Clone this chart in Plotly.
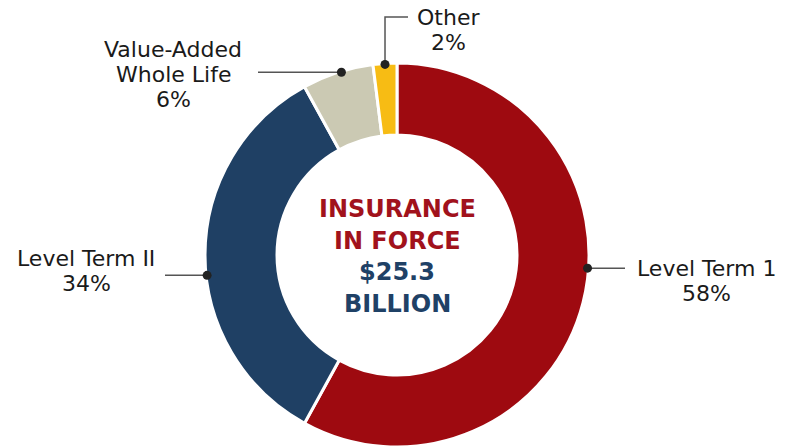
import math
import plotly.graph_objects as go

# ---- data ----
categories = ["Level Term 1", "Level Term II", "Value-Added|Whole Life", "Other"]
shares = [58, 34, 6, 2]
colors = ["#9E0A10", "#1F4064", "#CBC9B3", "#F7BC14"]
center_title = ["INSURANCE", "IN FORCE"]
center_value = ["$25.3", "BILLION"]

# ---- layout geometry (pixels) ----
W, H = 791, 447
dom_x = [3 / W, 1.0]
dom_y = [0.0, 384 / H]
cx = (dom_x[0] + dom_x[1]) / 2 * W
cy = H - (dom_y[0] + dom_y[1]) / 2 * H
R = min((dom_x[1] - dom_x[0]) * W, (dom_y[1] - dom_y[0]) * H) / 2

fig = go.Figure()
fig.add_trace(go.Pie(
    labels=[c.replace("|", " ") for c in categories], values=shares, hole=0.625, sort=False,
    direction="clockwise", rotation=0,
    marker=dict(colors=colors, line=dict(color="white", width=3)),
    textinfo="none", hoverinfo="label+percent", showlegend=False,
    domain=dict(x=dom_x, y=dom_y),
))
# invisible pixel-scale axis for leaders
fig.add_trace(go.Scatter(x=[0, W], y=[0, H], mode="markers",
                         marker=dict(opacity=0), showlegend=False, hoverinfo="skip"))

# label placement styles
label_frac = [0.45, 0.45, 0.55, 0.5]      # where in slice the dot sits
label_side = ["right", "left", "left", "up"]
label_cx = [706, 86, 173, 448]
label_dy = [0, -17, -23, 0]
line_end = [625, 165, 258, 408]
LH = 25

total = sum(shares)
cum = 0
shapes = []
annotations = []
font_lbl = dict(family="DejaVu Sans", size=22, color="#1a1a1a")
for i, (cat, v) in enumerate(zip(categories, shares)):
    ang = (cum + v * label_frac[i]) / total * 2 * math.pi
    cum += v
    px = cx + (R - 1) * math.sin(ang)
    py = cy - (R - 1) * math.cos(ang)
    pct = f"{round(v / total * 100)}%"
    lines = cat.split("|") + [pct]
    if label_side[i] in ("right", "left"):
        shapes.append(dict(type="line", x0=px, y0=py, x1=line_end[i], y1=py,
                           xref="x", yref="y", line=dict(color="#555", width=1.5), layer="above"))
        y0 = py + label_dy[i]
    else:
        top_y = 17
        shapes.append(dict(type="path", path=f"M{px},{py} L{px},{top_y} L{line_end[i]},{top_y}",
                           xref="x", yref="y", line=dict(color="#555", width=1.5), layer="above"))
        y0 = top_y
    for k, ln in enumerate(lines):
        annotations.append(dict(x=label_cx[i], y=y0 + k * LH, xref="x", yref="y",
                                xanchor="center", yanchor="middle", showarrow=False,
                                text=ln, font=font_lbl))
    shapes.append(dict(type="circle", x0=px - 4.5, x1=px + 4.5, y0=py - 4.5, y1=py + 4.5,
                       xref="x", yref="y", fillcolor="#222", line=dict(width=0), layer="above"))

center_lines = [(t, "#A1121C") for t in center_title] + [(t, "#1F4166") for t in center_value]
CLH = 31.5
for k, (t, col) in enumerate(center_lines):
    annotations.append(dict(x=cx, y=cy + (k - 1.5) * CLH + 1.5, xref="x", yref="y",
                            xanchor="center", yanchor="middle", showarrow=False,
                            text=f"<b>{t}</b>",
                            font=dict(family="DejaVu Sans", size=24, color=col)))

fig.update_layout(
    width=W, height=H, margin=dict(l=0, r=0, t=0, b=0),
    paper_bgcolor="white", plot_bgcolor="rgba(0,0,0,0)",
    xaxis=dict(range=[0, W], visible=False, fixedrange=True),
    yaxis=dict(range=[H, 0], visible=False, fixedrange=True),
    shapes=shapes, annotations=annotations,
)
fig.write_html("out.html")
